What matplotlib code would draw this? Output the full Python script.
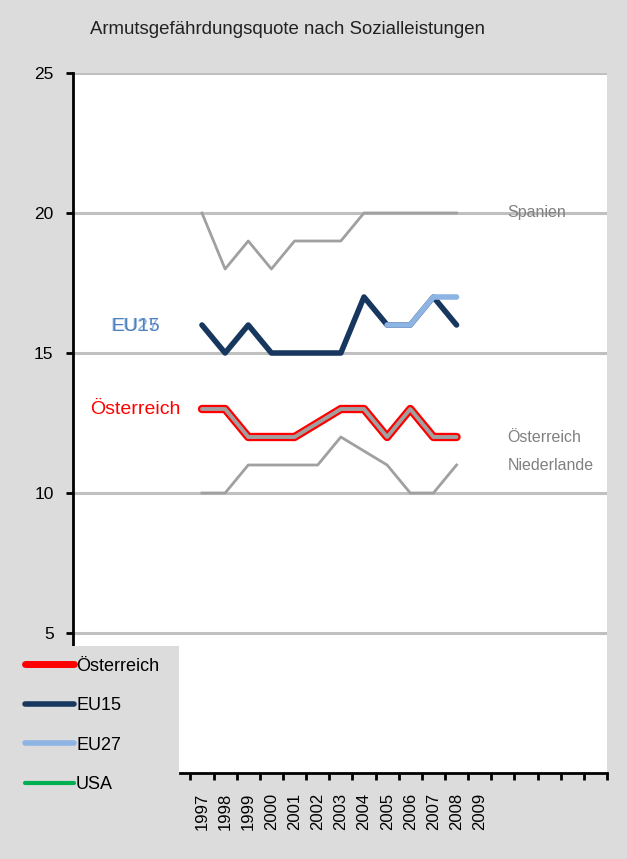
import numpy as np
import matplotlib
matplotlib.use("Agg")
import matplotlib.pyplot as plt
from matplotlib.lines import Line2D
from matplotlib.patches import Rectangle

plt.rcParams["font.family"] = ["Liberation Sans", "DejaVu Sans"]

years = list(range(1997, 2009))
tick_years = list(range(1997, 2010))
nan = np.nan
spanien = [20, 18, 19, 18, 19, 19, 19, 20, 20, 20, 20, 20]
niederlande = [10, 10, 11, 11, 11, 11, 12, 11.5, 11, 10, 10, 11]
oesterreich = [13, 13, 12, 12, 12, 12.5, 13, 13, 12, 13, 12, 12]
eu15 = [16, 15, 16, 15, 15, 15, 15, 17, 16, 16, 17, 16]
eu27 = [nan, nan, nan, nan, nan, nan, nan, nan, 16, 16, 17, 17]
usa = [nan] * 12

BG = "#dcdcdc"
GRAY = "#a0a0a0"
RED = "#ff0000"
NAVY = "#17375e"
LIGHT = "#8db4e2"
GREEN = "#00b050"

W, H = 627, 859
fig = plt.figure(figsize=(W / 100, H / 100), dpi=100, facecolor=BG)
ax = fig.add_axes([73 / W, 1 - 773 / H, (607 - 73) / W, (773 - 73) / H])
ax.set_facecolor("white")

px_per_year = 23.15
ax.set_xlim(1997 - 129 / px_per_year, 1997 + 405 / px_per_year)
ax.set_ylim(0, 25)

for v in [5, 10, 15, 20, 25]:
    ax.axhline(v, color="#c0c0c0", lw=2.2, zorder=1)

ax.plot(years, spanien, color=GRAY, lw=2, zorder=2)
ax.plot(years, niederlande, color=GRAY, lw=2, zorder=2)
ax.plot(years, oesterreich, color=RED, lw=6, solid_capstyle="round", solid_joinstyle="round", zorder=3)
ax.plot(years, oesterreich, color=GRAY, lw=2.8, solid_capstyle="round", zorder=4)
ax.plot(years, eu15, color=NAVY, lw=4, solid_capstyle="round", solid_joinstyle="round", zorder=5)
ax.plot(years, eu27, color=LIGHT, lw=4, solid_capstyle="round", solid_joinstyle="round", zorder=6)
ax.plot(years, usa, color=GREEN, lw=4, zorder=6)

# labels on the right (grey group)
xr = 2010.2
ax.text(xr, spanien[-1], "Spanien", color="#808080", fontsize=11.5, va="center", zorder=7)
ax.text(xr, oesterreich[-1], "Österreich", color="#808080", fontsize=11.5, va="center")
ax.text(xr, niederlande[-1], "Niederlande", color="#808080", fontsize=11.5, va="center")

# labels on the left
ax.text(1993.03, eu15[0] - 0.07, "EU27", color=LIGHT, fontsize=14, va="center")
ax.text(1993.08, eu15[0] - 0.07, "EU15", color="#4f81bd", fontsize=14, va="center")
ax.text(1992.16, oesterreich[0], "Österreich", color=RED, fontsize=14, va="center")

# axes styling
for s in ["top", "right"]:
    ax.spines[s].set_visible(False)
ax.spines["left"].set_linewidth(2)
ax.spines["bottom"].set_linewidth(2)
ax.spines["bottom"].set_bounds(1997 - 22 / px_per_year, ax.get_xlim()[1])
ax.set_yticks([0, 5, 10, 15, 20, 25])
ax.set_yticklabels(["0", "5", "10", "15", "20", "25"])
ax.tick_params(axis="y", direction="out", length=5, width=2, labelsize=12.5, pad=9)
ax.set_xticks(np.arange(1996.5, 2015, 1.0))
ax.set_xticklabels([])
ax.tick_params(axis="x", which="major", direction="out", length=5, width=2)
ax.set_xticks(tick_years, minor=True)
ax.set_xticklabels([str(y) for y in tick_years], minor=True, rotation=90, fontsize=12)
ax.tick_params(axis="x", which="minor", length=0, pad=14)

fig.text(90 / W, 1 - 30 / H, "Armutsgefährdungsquote nach Sozialleistungen", fontsize=13.4, va="center", color="#222222")

# legend box
fig.add_artist(Rectangle((8 / W, 0), (179 - 8) / W, 1 - 646 / H, transform=fig.transFigure,
                         facecolor=BG, edgecolor="none", zorder=3))
handles = [
    Line2D([], [], color=RED, lw=5, solid_capstyle="round"),
    Line2D([], [], color=NAVY, lw=4, solid_capstyle="round"),
    Line2D([], [], color=LIGHT, lw=4, solid_capstyle="round"),
    Line2D([], [], color=GREEN, lw=3, solid_capstyle="round"),
]
leg = fig.legend(handles, ["Österreich", "EU15", "EU27", "USA"], loc="upper left",
                 bbox_to_anchor=(12 / W, 1 - 645 / H), frameon=False, fontsize=13,
                 handlelength=2.75, handletextpad=0.1, labelspacing=1.25, borderpad=0.2)
leg.set_zorder(5)

fig.savefig("out.png", dpi=100, facecolor=BG)
